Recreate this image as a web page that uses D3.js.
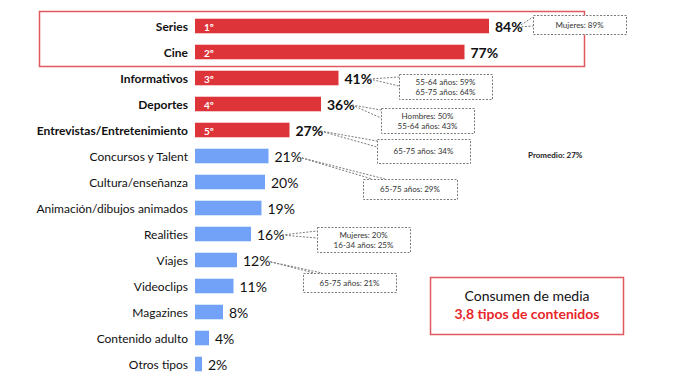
<!DOCTYPE html>
<html><head><meta charset="utf-8">
<script src="https://cdn.jsdelivr.net/npm/d3@7"></script>
<style>body{margin:0;background:#fff}svg{display:block}</style>
</head><body>
<script>
const categories = ["Series","Cine","Informativos","Deportes","Entrevistas/Entretenimiento","Concursos y Talent","Cultura/enseñanza","Animación/dibujos animados","Realities","Viajes","Videoclips","Magazines","Contenido adulto","Otros tipos"];
const values = [84,77,41,36,27,21,20,19,16,12,11,8,4,2];
const ranks = ["1º","2º","3º","4º","5º"];
const calloutCats = ["Series","Informativos","Deportes","Entrevistas/Entretenimiento","Concursos y Talent","Realities","Viajes"];
const calloutTexts = [["Mujeres: 89%"],["55-64 años: 59%","65-75 años: 64%"],["Hombres: 50%","55-64 años: 43%"],["65-75 años: 34%"],["65-75 años: 29%"],["Mujeres: 20%","16-34 años: 25%"],["65-75 años: 21%"]];
const averageLabel = "Promedio: 27%";
const summaryLines = ["Consumen de media","3,8 tipos de contenidos"];

const W=700,H=380, FONT="Lato, 'Open Sans', sans-serif";
const RED="#dd3439", BLUE="#72a2f7";
const svg=d3.select("body").append("svg").attr("width",W).attr("height",H);
const x=d3.scaleLinear().domain([0,100]).range([195,545]);
const y=d3.scaleBand().domain(categories).range([13,377]).paddingInner(0.44).paddingOuter(0.22);
const isTop=(i)=>i<ranks.length;

// highlight box
svg.append("rect").attr("x",39.5).attr("y",11.5).attr("width",545).attr("height",55)
  .attr("fill","none").attr("stroke","#e2575c").attr("stroke-width",1.5);

const g=svg.append("g");
g.selectAll("rect.bar").data(values).join("rect").attr("class","bar")
  .attr("x",x(0)).attr("y",(d,i)=>y(categories[i])).attr("width",d=>x(d)-x(0)).attr("height",y.bandwidth())
  .attr("fill",(d,i)=>isTop(i)?RED:BLUE);

g.selectAll("text.cat").data(categories).join("text").attr("class","cat")
  .attr("x",188).attr("y",d=>y(d)+y.bandwidth()/2+4.5).attr("text-anchor","end")
  .attr("font-family",FONT).attr("font-size",12).attr("font-weight",(d,i)=>isTop(i)?"bold":"normal")
  .attr("fill","#111").text(d=>d);

g.selectAll("text.rank").data(ranks).join("text").attr("class","rank")
  .attr("x",x(0)+9).attr("y",(d,i)=>y(categories[i])+y.bandwidth()-2).attr("font-family",FONT)
  .attr("font-size",10).attr("font-weight","bold").attr("fill","#fff").text(d=>d);

g.selectAll("text.val").data(values).join("text").attr("class","val")
  .attr("x",d=>x(d)+6).attr("y",(d,i)=>y(categories[i])+y.bandwidth()/2+6).attr("font-family",FONT)
  .attr("font-size",14).attr("font-weight",(d,i)=>isTop(i)?"bold":"normal").attr("fill","#111").text(d=>d+"%");

// callouts layout (pixels): box x,y,w,h and pointer tip offset / attach ys
const layout=[
 {bx:533,by:15,bw:93,bh:19,tipdx:29,a1:17,a2:26},
 {bx:399,by:74,bw:93,bh:25,tipdx:31,a1:77,a2:86},
 {bx:381,by:108,bw:93,bh:25,tipdx:31,a1:110,a2:118},
 {bx:377,by:139,bw:93,bh:24,tipdx:31,a1:141,a2:147},
 {bx:363,by:179,bw:94,bh:20,tipdx:30,a1:179,a2:179,top:true,t1:372,t2:385},
 {bx:317,by:227,bw:93,bh:25,tipdx:31,a1:231,a2:238},
 {bx:303,by:273,bw:93,bh:19,tipdx:30,a1:273,a2:273,top:true,t1:314,t2:322}
];
const cg=svg.append("g");
calloutCats.forEach((c,k)=>{
  const i=categories.indexOf(c), L=layout[k];
  const tx=x(values[i])+L.tipdx, ty=y(c)+y.bandwidth()/2+1;
  const dash="2,1.5", col="#7a7a7a";
  let p;
  if(L.top){ p=`M${tx},${ty}L${L.t1},${L.by}M${tx},${ty}L${L.t2},${L.by}`; }
  else { p=`M${tx},${ty}L${L.bx},${L.a1}M${tx},${ty}L${L.bx},${L.a2}`; }
  cg.append("path").attr("d",p).attr("fill","none").attr("stroke",col).attr("stroke-width",1).attr("stroke-dasharray",dash);
  cg.append("rect").attr("x",L.bx+0.5).attr("y",L.by+0.5).attr("width",L.bw).attr("height",L.bh)
    .attr("fill","#fff").attr("stroke",col).attr("stroke-width",1).attr("stroke-dasharray",dash);
  const lines=calloutTexts[k], n=lines.length;
  lines.forEach((t,j)=>{
    cg.append("text").attr("x",L.bx+L.bw/2).attr("y",L.by+L.bh/2+3+(j-(n-1)/2)*10)
      .attr("text-anchor","middle").attr("font-family",FONT).attr("font-size",8).attr("fill","#333").text(t);
  });
});

svg.append("text").attr("x",528).attr("y",158).attr("font-family",FONT).attr("font-size",8)
  .attr("font-weight","bold").attr("fill","#222").text(averageLabel);

svg.append("rect").attr("x",430.5).attr("y",277.5).attr("width",193).attr("height",57)
  .attr("fill","none").attr("stroke","#e2575c").attr("stroke-width",1.5);
svg.append("text").attr("x",527).attr("y",301).attr("text-anchor","middle").attr("font-family",FONT)
  .attr("font-size",14).attr("fill","#111").text(summaryLines[0]);
svg.append("text").attr("x",527).attr("y",319).attr("text-anchor","middle").attr("font-family",FONT)
  .attr("font-size",14).attr("font-weight","bold").attr("fill","#e8262c").text(summaryLines[1]);
</script>
</body></html>
